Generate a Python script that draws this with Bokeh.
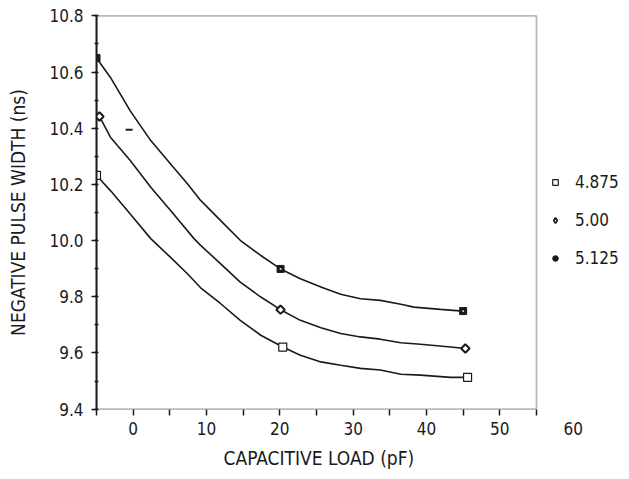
import math
from bokeh.plotting import figure
from bokeh.models import (Range1d, FixedTicker, PrintfTickFormatter, Legend, LegendItem,
                          BoxAnnotation, Title)
from bokeh.embed import file_html
from bokeh.resources import INLINE

# ---- data ----
series_labels = ["4.875", "5.00", "5.125"]

# measured points (markers)
x_4875 = [-5.0, 20.4, 45.6]
y_4875 = [10.232, 9.621, 9.513]
x_500 = [-4.6, 20.1, 45.3]
y_500 = [10.442, 9.754, 9.616]
x_5125 = [-5.0, 20.1, 45.0]
y_5125 = [10.650, 9.899, 9.749]

# traced points along each drawn curve
curve_x_4875 = [-5.0, -3.1, -0.4, 2.4, 5.1, 7.4, 9.2, 11.9, 14.6, 17.4, 20.4, 22.8, 25.6, 28.3, 31.0, 33.7, 36.5, 39.2, 43.3, 45.6]
curve_y_4875 = [10.232, 10.178, 10.095, 10.007, 9.940, 9.882, 9.832, 9.776, 9.716, 9.663, 9.621, 9.592, 9.568, 9.556, 9.545, 9.539, 9.524, 9.521, 9.513, 9.513]
curve_x_500 = [-4.6, -3.1, -0.4, 2.4, 5.1, 8.3, 9.2, 11.9, 14.6, 17.4, 20.1, 22.8, 25.6, 28.3, 31.0, 33.7, 36.5, 39.2, 43.3, 45.3]
curve_y_500 = [10.442, 10.368, 10.285, 10.190, 10.107, 10.007, 9.983, 9.918, 9.852, 9.799, 9.754, 9.716, 9.690, 9.669, 9.657, 9.649, 9.636, 9.631, 9.621, 9.616]
curve_x_5125 = [-5.0, -3.1, -0.4, 2.4, 5.1, 7.4, 9.2, 11.9, 14.6, 17.4, 20.1, 22.8, 25.6, 28.3, 31.0, 33.7, 36.5, 38.3, 41.9, 45.0]
curve_y_5125 = [10.650, 10.581, 10.462, 10.356, 10.273, 10.202, 10.143, 10.072, 10.001, 9.947, 9.899, 9.864, 9.835, 9.809, 9.793, 9.787, 9.773, 9.763, 9.755, 9.749]

# stray mark in the plot area
stray_x = [-0.55]
stray_y = [10.395]

# axis extents of the plotted box and tick values
x_min, x_max = -5, 55
y_min, y_max = 9.4, 10.8
x_tick_values = [0, 10, 20, 30, 40, 50, 60]
x_minor_values = [-5, 0, 5, 10, 15, 20, 25, 30, 35, 40, 45, 50, 55]
y_tick_values = [9.4, 9.6, 9.8, 10.0, 10.2, 10.4, 10.6, 10.8]
y_minor_values = [9.4, 9.5, 9.6, 9.7, 9.8, 9.9, 10.0, 10.1, 10.2, 10.3, 10.4, 10.5, 10.6, 10.7, 10.8]

FONT = "DejaVu Sans Condensed"
INK = "#1a1a1a"

p = figure(
    width=628, height=479,
    min_border_left=96, min_border_top=14, min_border_right=4, min_border_bottom=68,
    x_range=Range1d(x_min, 67), y_range=Range1d(9.395, 10.805),
    output_backend="svg", toolbar_location=None,
    y_axis_label="NEGATIVE PULSE WIDTH (ns)",
)
p.xgrid.visible = False
p.ygrid.visible = False
p.outline_line_color = None
p.background_fill_color = "white"
p.border_fill_color = "white"

# plot box (top, right and bottom borders)
p.add_layout(BoxAnnotation(left=x_min, right=x_max, bottom=y_min, top=y_max,
                           fill_color=None, fill_alpha=0, line_color=INK,
                           line_width=1.8, level="underlay"))

xa = p.xaxis[0]
ya = p.yaxis[0]
xa.ticker = FixedTicker(ticks=x_tick_values, minor_ticks=x_minor_values)
ya.ticker = FixedTicker(ticks=y_tick_values, minor_ticks=y_minor_values)
ya.formatter = PrintfTickFormatter(format="%.1f")
ya.bounds = (y_min, y_max)

for ax in (xa, ya):
    ax.axis_line_color = INK
    ax.axis_line_width = 2
    ax.major_tick_line_color = INK
    ax.minor_tick_line_color = INK
    ax.major_tick_line_width = 1.5
    ax.minor_tick_line_width = 1.5
    ax.major_label_text_font = FONT
    ax.major_label_text_font_size = "17px"
    ax.major_label_text_color = INK
    ax.axis_label_text_font = FONT
    ax.axis_label_text_font_size = "19px"
    ax.axis_label_text_font_style = "normal"
    ax.axis_label_text_color = INK

# x axis: line drawn by the box, ticks drawn as minor ticks only
xa.axis_line_color = None
xa.major_tick_line_color = None
xa.major_tick_out = 5
xa.major_tick_in = 0
xa.minor_tick_out = 5
xa.minor_tick_in = 1
xa.major_label_standoff = 6

ya.major_tick_out = 5
ya.major_tick_in = 0
ya.minor_tick_out = 2
ya.minor_tick_in = 2
ya.major_label_standoff = 8
ya.axis_label_standoff = 17

# x axis title, placed under the plotted box
p.add_layout(Title(text="CAPACITIVE LOAD (pF)", align="left", offset=127,
                   vertical_align="top", standoff=18, text_font=FONT,
                   text_font_size="19px", text_font_style="normal",
                   text_color=INK), "below")

# curves
p.line(curve_x_4875, curve_y_4875, line_color=INK, line_width=1.6)
p.line(curve_x_500, curve_y_500, line_color=INK, line_width=1.6)
p.line(curve_x_5125, curve_y_5125, line_color=INK, line_width=1.6)

# markers
r_open = p.scatter(x_4875, y_4875, marker="square", size=8, fill_color="white",
                   line_color=INK, line_width=1.2)
r_diam = p.scatter(x_500, y_500, marker="square", angle=math.pi / 4, size=6,
                   fill_color="white", line_color=INK, line_width=2)
r_fill = p.scatter(x_5125, y_5125, marker="square", size=7, fill_color=INK,
                   line_color=INK, line_width=1)
p.scatter(x_5125, y_5125, marker="dot", size=7, line_color="white")

# legend-only renderers (the key uses different symbols)
r_leg_diam = p.scatter(x_500, y_500, marker="diamond", size=8, fill_color="white",
                       line_color=INK, line_width=1.6, visible=False)
r_leg_circle = p.scatter(x_5125, y_5125, marker="circle", size=7, fill_color=INK,
                         line_color=INK, visible=False)

p.scatter(stray_x, stray_y, marker="dash", size=7, line_color=INK, line_width=2)

legend = Legend(
    items=[
        LegendItem(label=series_labels[0], renderers=[r_open]),
        LegendItem(label=series_labels[1], renderers=[r_leg_diam]),
        LegendItem(label=series_labels[2], renderers=[r_leg_circle]),
    ],
    location=(452, 142),
    glyph_width=14, glyph_height=20, label_height=20, spacing=18,
    padding=0, margin=0, label_standoff=13,
    border_line_color=None, background_fill_alpha=0,
    label_text_font=FONT, label_text_font_size="17px", label_text_color=INK,
)
p.add_layout(legend)

open("out.html", "w").write(file_html(p, INLINE))
